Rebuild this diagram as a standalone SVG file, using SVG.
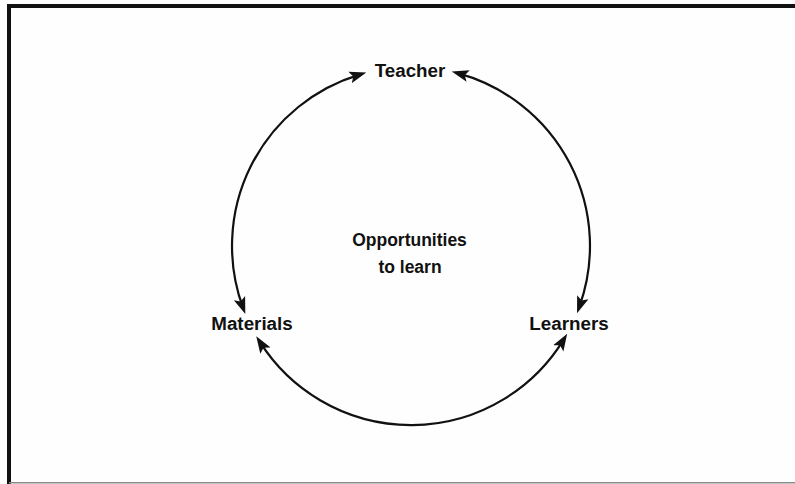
<svg xmlns="http://www.w3.org/2000/svg" width="795" height="484" viewBox="0 0 795 484">
  <style>
    .label { font-family: "Liberation Sans", Arial, sans-serif; font-weight: bold; fill: #111; }
    .node { font-size: 18.8px; }
    .centre { font-size: 17.5px; }
    .arc { fill: none; stroke: #111; stroke-width: 2.2; }
  </style>
  <defs>
    <marker id="arrow" markerUnits="userSpaceOnUse" markerWidth="17" markerHeight="13" viewBox="0 0 17 13" refX="10" refY="6.5" orient="auto-start-reverse">
      <path d="M0,0.5 L17,6.5 L0,12.5 L3.5,6.5 z" fill="#111"/>
    </marker>
  </defs>

  <rect width="795" height="484" fill="#fefefe"/>

  <!-- frame -->
  <g id="frame">
    <path d="M9,484 V6 H795" fill="none" stroke="#111" stroke-width="4"/>
    <line x1="9" y1="482.8" x2="795" y2="482.8" stroke="#8a8a8a" stroke-width="1.6"/>
  </g>

  <!-- circular cycle: three two-headed arcs on one circle, centre (411,246), r 179 -->
  <g id="connectors">
    <path class="arc" d="M359.6,74.6 A179,179 0 0 0 242.9,307.5" marker-start="url(#arrow)" marker-end="url(#arrow)"/>
    <path class="arc" d="M458.5,73.4 A179,179 0 0 1 579.4,306.6" marker-start="url(#arrow)" marker-end="url(#arrow)"/>
    <path class="arc" d="M260.0,342.2 A179,179 0 0 0 563.5,339.8" marker-start="url(#arrow)" marker-end="url(#arrow)"/>
  </g>

  <g id="teacher">
    <text class="label node" x="410" y="77" text-anchor="middle">Teacher</text>
  </g>
  <g id="materials">
    <text class="label node" x="252" y="329.5" text-anchor="middle">Materials</text>
  </g>
  <g id="learners">
    <text class="label node" x="569" y="329.5" text-anchor="middle">Learners</text>
  </g>
  <g id="opportunities">
    <text class="label centre" x="409.5" y="246" text-anchor="middle">Opportunities</text>
    <text class="label centre" x="410" y="272.5" text-anchor="middle">to learn</text>
  </g>
</svg>
